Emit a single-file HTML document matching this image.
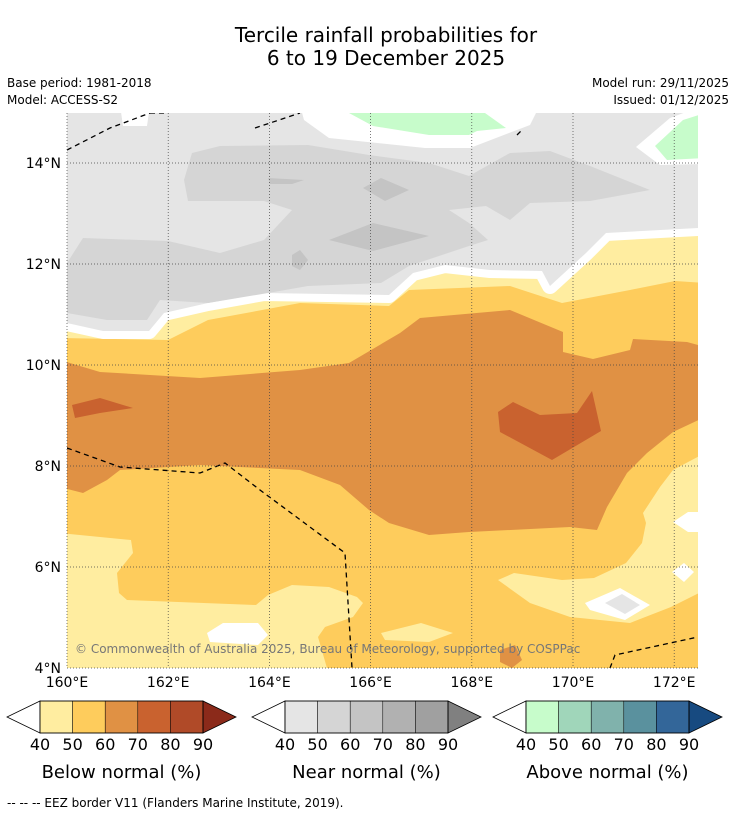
<!DOCTYPE html>
<html><head><meta charset="utf-8">
<style>
html,body{margin:0;padding:0;background:#fff;}
body{width:736px;height:816px;overflow:hidden;font-family:"Liberation Sans",sans-serif;}
svg text{font-family:"DejaVu Sans","Liberation Sans",sans-serif;}
</style></head>
<body>
<svg id="chart" width="736" height="816" viewBox="0 0 736 816" xmlns="http://www.w3.org/2000/svg">
<text x="386" y="42" font-size="20" text-anchor="middle">Tercile rainfall probabilities for</text>
<text x="386" y="65" font-size="20" text-anchor="middle">6 to 19 December 2025</text>
<text x="7" y="87" font-size="12">Base period: 1981-2018</text>
<text x="7" y="104" font-size="12">Model: ACCESS-S2</text>
<text x="729" y="87" font-size="12" text-anchor="end">Model run: 29/11/2025</text>
<text x="729" y="104" font-size="12" text-anchor="end">Issued: 01/12/2025</text>
<defs><clipPath id="mapclip"><rect x="67" y="113" width="631" height="555"/></clipPath></defs>
<g id="map" clip-path="url(#mapclip)"></g>
<g id="axes"></g>
<g id="bars"></g>
<text x="7" y="807" font-size="12">--  --  -- EEZ border V11 (Flanders Marine Institute, 2019).</text>
</svg>
<script>
const lonTicks=[160,162,164,166,168,170,172];
const latTicks=[4,6,8,10,12,14];
const binLabels=[40,50,60,70,80,90];
const belowColors=["#ffeda0","#fecc5c","#e09144","#c9622f","#b04a28","#8b2a1a"];
const nearColors=["#e5e5e5","#d5d5d5","#c4c4c4","#b1b1b1","#a0a0a0","#808080"];
const aboveColors=["#c7fccb","#a0d6ba","#80b2ac","#5a919e","#336699","#174a80"];
const barTitles=["Below normal (%)","Near normal (%)","Above normal (%)"];
const NS="http://www.w3.org/2000/svg";
function X(lon){return 67+(lon-160)*50.6;}
function Y(lat){return 668-(lat-4)*50.5;}
function mk(tag,attrs,parent){const e=document.createElementNS(NS,tag);for(const k in attrs)e.setAttribute(k,attrs[k]);parent.appendChild(e);return e;}
function ll(pts){return pts.map(p=>[160+(p[0]-67)/50.6,14-(p[1]-163)/50.5]);}
function poly(pts,fill,name,parent,stroke,sw){
  const d=pts.map((p,i)=>(i?'L':'M')+X(p[0]).toFixed(1)+','+Y(p[1]).toFixed(1)).join('')+'Z';
  const e=mk('path',{d:d,fill:fill,stroke:stroke||'none','stroke-width':stroke?(sw||8):0,'stroke-linejoin':'round'},parent);
  
  
  return e;
}
const map=document.getElementById('map');
poly(ll([[60,105],[705,105],[705,675],[60,675]]),belowColors[0],'below-40-50-base',map);
poly(ll([[60,338],[168,340],[208,320],[300,303],[389,306],[409,290],[510,286],[562,303],[630,290],[675,281],[705,283],[705,453],[673,470],[660,487],[643,513],[646,523],[642,543],[626,563],[594,578],[562,580],[514,573],[498,580],[530,603],[570,617],[630,623],[671,607],[705,590],[705,675],[329,675],[318,637],[325,627],[353,617],[363,603],[357,597],[329,587],[292,585],[268,595],[256,605],[127,600],[119,593],[117,573],[133,553],[131,540],[60,533]]),belowColors[1],'below-50-60-region',map);
poly(ll([[381,633],[421,623],[453,633],[429,642],[385,640]]),belowColors[0],'below-40-50-patch',map);
poly(ll([[60,360],[100,372],[200,378],[300,370],[349,363],[400,333],[420,318],[510,310],[563,332],[563,352],[593,359],[630,350],[633,339],[687,342],[705,347],[705,417],[673,432],[647,453],[627,473],[607,507],[597,530],[570,527],[469,532],[429,535],[389,523],[369,510],[340,485],[300,470],[200,465],[120,470],[107,480],[83,493],[60,487]]),belowColors[2],'below-60-70-region',map);
poly(ll([[72,405],[100,398],[133,408],[100,413],[75,418]]),belowColors[3],'below-70-80-west',map);
poly(ll([[498,412],[513,402],[540,415],[577,413],[592,391],[601,431],[552,460],[500,432]]),belowColors[3],'below-70-80-east',map);
poly(ll([[500,650],[515,645],[522,660],[512,668],[500,662]]),belowColors[2],'below-60-70-south',map);
const grayPts=ll([[60,105],[705,105],[705,228],[698,228],[606,233],[586,253],[550,286],[542,271],[490,270],[445,265],[413,273],[389,295],[264,293],[208,303],[164,313],[149,331],[103,331],[67,323],[60,323]]);
poly(grayPts,'#ffffff','white-gap',map,'#ffffff',16);
poly(grayPts,nearColors[0],'near-40-50-region',map);
poly(ll([[300,105],[540,105],[530,125],[470,148],[425,148],[329,138],[304,120]]),'#ffffff','white-gap-top',map);
poly(ll([[349,113],[373,126],[429,135],[469,135],[477,131],[506,128],[485,113]]),aboveColors[0],'above-40-50-north',map);
poly(ll([[120,105],[150,105],[147,126],[123,126]]),'#ffffff','white-gap-nw',map);
poly(ll([[705,105],[670,118],[636,147],[660,165],[705,164]]),'#ffffff','white-gap-ne',map);
poly(ll([[705,113],[683,120],[655,146],[667,160],[705,158]]),aboveColors[0],'above-40-50-ne',map);
poly(ll([[67,263],[83,238],[168,241],[220,253],[264,240],[292,210],[264,201],[188,201],[184,180],[192,153],[220,146],[308,145],[369,155],[429,163],[469,176],[510,153],[550,151],[590,166],[650,190],[590,201],[530,203],[510,220],[486,206],[449,210],[469,223],[488,240],[469,246],[409,266],[381,283],[308,286],[268,293],[208,303],[160,300],[147,320],[107,320],[67,313]]),nearColors[1],'near-50-60-region',map);
poly(ll([[268,178],[304,180],[292,184],[270,184]]),nearColors[2],'near-60-70-a',map);
poly(ll([[363,188],[381,178],[409,190],[385,201]]),nearColors[2],'near-60-70-b',map);
poly(ll([[329,240],[373,223],[429,236],[373,251]]),nearColors[2],'near-60-70-c',map);
poly(ll([[292,255],[300,250],[308,260],[300,270],[292,266]]),nearColors[2],'near-60-70-d',map);
poly(ll([[207,633],[223,623],[258,623],[268,635],[258,645],[210,642]]),'#ffffff','white-patch-s',map);
poly(ll([[585,603],[620,588],[650,605],[625,620],[590,610]]),'#ffffff','white-patch-se',map);
poly(ll([[605,603],[622,594],[640,605],[625,614]]),nearColors[0],'near-patch-se',map);
poly(ll([[673,522],[688,512],[705,512],[705,532],[688,532]]),'#ffffff','white-patch-e',map);
poly(ll([[672,572],[684,563],[694,572],[684,582]]),'#ffffff','white-patch-e2',map);
const eez=[ll([[67,150],[110,128],[150,113]]),ll([[150,113],[165,113]]),ll([[255,128],[300,113]]),ll([[67,448],[120,467],[200,473],[225,463],[260,490],[345,553],[352,668]]),ll([[610,668],[615,655],[698,637]]),ll([[517,135],[522,130]])];
eez.forEach((l)=>{const d=l.map((p,j)=>(j?'L':'M')+X(p[0]).toFixed(1)+','+Y(p[1]).toFixed(1)).join('');
 const e=mk('path',{d:d,fill:'none',stroke:'#000','stroke-width':1.3,'stroke-dasharray':'5,4'},map);
 
 });
const axes=document.getElementById('axes');
lonTicks.forEach(v=>{const x=X(v);
 const g=mk('line',{x1:x,x2:x,y1:113,y2:668,stroke:'#444','stroke-width':0.7,'stroke-dasharray':'1,2'},axes);
 
 
 const t=mk('text',{x:x,y:687,'font-size':14,'text-anchor':'middle'},axes);t.textContent=v+'°E';
 
 });
latTicks.forEach(v=>{const y=Y(v);
 const g=mk('line',{x1:67,x2:698,y1:y,y2:y,stroke:'#444','stroke-width':0.7,'stroke-dasharray':'1,2'},axes);
 
 
 const t=mk('text',{x:61,y:y+5,'font-size':14,'text-anchor':'end'},axes);t.textContent=v+'°N';
 
 });
const cp=mk('text',{x:75,y:653,'font-size':12,fill:'#777'},axes);
cp.textContent='© Commonwealth of Australia 2025, Bureau of Meteorology, supported by COSPPac';


const bars=document.getElementById('bars');
const sets=[belowColors,nearColors,aboveColors];
const starts=[40,285,526];
sets.forEach((cols,b)=>{
 const x0=starts[b],w=163,sw=w/5,y0=701,h=32;
 const lt=mk('path',{d:`M${x0},${y0}L${x0-33},${y0+h/2}L${x0},${y0+h}Z`,fill:'#fff',stroke:'#000','stroke-width':0.8},bars);
 
 
 for(let i=0;i<5;i++){const r=mk('rect',{x:x0+i*sw,y:y0,width:sw,height:h,fill:cols[i],stroke:'#000','stroke-width':0.5},bars);
  
  }
 const rt=mk('path',{d:`M${x0+w},${y0}L${x0+w+33},${y0+h/2}L${x0+w},${y0+h}Z`,fill:cols[5],stroke:'#000','stroke-width':0.8},bars);
 
 
 mk('rect',{x:x0,y:y0,width:w,height:h,fill:'none',stroke:'#000','stroke-width':0.8},bars);
 binLabels.forEach((v,i)=>{const t=mk('text',{x:x0+i*sw,y:750,'font-size':16,'text-anchor':'middle'},bars);t.textContent=v;
  
  });
 const tt=mk('text',{x:x0+w/2,y:778,'font-size':18,'text-anchor':'middle'},bars);tt.textContent=barTitles[b];
 
 
});
</script>
</body></html>
